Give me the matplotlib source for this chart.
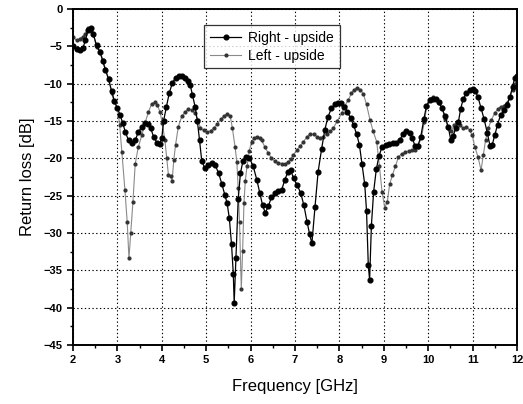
import matplotlib
matplotlib.use('Agg')
import matplotlib.pyplot as plt
from matplotlib.ticker import MultipleLocator

# Right - upside (dark curve, big markers)
freq_right = [2.00, 2.08, 2.15, 2.22, 2.28, 2.34, 2.40, 2.46, 2.53, 2.61, 2.67, 2.73, 2.80, 2.87, 2.93,
              3.00, 3.06, 3.12, 3.18, 3.25, 3.32, 3.40, 3.47, 3.55, 3.62, 3.68, 3.75, 3.82, 3.89, 3.95,
              4.00, 4.04, 4.10, 4.17, 4.24, 4.31, 4.38, 4.45, 4.52, 4.58, 4.64, 4.69, 4.75, 4.80, 4.85,
              4.90, 4.97, 5.05, 5.12, 5.20, 5.28, 5.35, 5.42, 5.47, 5.52, 5.57, 5.61, 5.63, 5.67, 5.72,
              5.77, 5.83, 5.90, 5.97, 6.06, 6.14, 6.21, 6.27, 6.33, 6.40, 6.47, 6.55, 6.62, 6.70, 6.77,
              6.84, 6.90, 6.97, 7.05, 7.13, 7.20, 7.27, 7.33, 7.38, 7.45, 7.52, 7.60, 7.67, 7.74, 7.82,
              7.90, 7.97, 8.04, 8.11, 8.18, 8.25, 8.32, 8.39, 8.45, 8.51, 8.57, 8.61, 8.65, 8.68, 8.72,
              8.77, 8.83, 8.89, 8.96, 9.04, 9.12, 9.20, 9.28, 9.36, 9.44, 9.51, 9.58, 9.64, 9.70, 9.76,
              9.83, 9.90, 9.96, 10.03, 10.10, 10.17, 10.24, 10.31, 10.38, 10.45, 10.51, 10.56, 10.62,
              10.68, 10.73, 10.79, 10.86, 10.93, 11.00, 11.06, 11.12, 11.19, 11.26, 11.33, 11.39, 11.44,
              11.50, 11.56, 11.63, 11.70, 11.77, 11.84, 11.90, 11.95, 12.00]
rl_right = [-5.0, -5.4, -5.5, -5.3, -4.2, -2.8, -2.6, -3.4, -4.9, -5.8, -7.0, -8.2, -9.4, -11.0, -12.3,
            -13.3, -14.2, -15.3, -16.5, -17.6, -18.0, -17.6, -16.5, -15.8, -15.3, -15.4, -16.0, -17.2, -17.9, -18.1,
            -17.3, -15.0, -13.2, -11.2, -9.9, -9.2, -9.0, -9.0, -9.2, -9.6, -10.2, -11.5, -13.1, -15.0, -17.6,
            -20.4, -21.3, -20.9, -20.6, -20.9, -22.0, -23.4, -24.9, -26.0, -28.0, -31.5, -35.5, -39.4, -33.3, -25.5,
            -22.0, -20.3, -19.8, -19.9, -21.1, -22.9, -24.7, -26.3, -27.3, -26.4, -25.2, -24.6, -24.4, -24.2, -22.9,
            -21.8, -21.6, -22.7, -23.6, -24.7, -26.3, -28.5, -30.2, -31.4, -26.5, -21.8, -18.7, -16.2, -14.5, -13.3,
            -12.8, -12.6, -12.6, -13.1, -13.8, -14.6, -15.6, -16.8, -18.2, -20.8, -23.5, -27.0, -34.3, -36.3, -29.0,
            -24.5, -21.5, -19.7, -18.5, -18.2, -18.1, -18.0, -17.9, -17.5, -16.7, -16.4, -16.6, -17.3, -18.3, -18.4,
            -17.2, -14.8, -13.0, -12.2, -12.0, -12.1, -12.5, -13.3, -14.4, -15.8, -17.6, -17.0, -16.0,
            -15.1, -13.4, -12.0, -11.3, -10.8, -10.7, -11.0, -11.8, -13.3, -14.8, -16.6, -18.3, -18.2,
            -16.9, -15.5, -14.2, -13.6, -12.9, -11.8, -10.4, -9.2, -9.0]

# Left - upside (grey curve, small markers)
freq_left = [2.00, 2.08, 2.15, 2.22, 2.28, 2.34, 2.40, 2.46, 2.53, 2.61, 2.67, 2.73, 2.80, 2.87, 2.93,
             3.00, 3.05, 3.10, 3.17, 3.22, 3.26, 3.30, 3.35, 3.40, 3.47, 3.55, 3.62, 3.70, 3.77, 3.84,
             3.90, 3.96, 4.01, 4.07, 4.11, 4.15, 4.20, 4.23, 4.27, 4.31, 4.37, 4.45, 4.52, 4.60, 4.67,
             4.75, 4.82, 4.87, 4.94, 5.02, 5.10, 5.18, 5.25, 5.33, 5.40, 5.47, 5.54, 5.59, 5.65, 5.69,
             5.72, 5.75, 5.79, 5.82, 5.85, 5.88, 5.92, 5.97, 6.02, 6.08, 6.14, 6.20, 6.25, 6.32, 6.40,
             6.47, 6.55, 6.62, 6.70, 6.77, 6.84, 6.90, 6.96, 7.04, 7.11, 7.19, 7.26, 7.34, 7.42, 7.50,
             7.57, 7.64, 7.72, 7.79, 7.86, 7.95, 8.05, 8.12, 8.20, 8.27, 8.33, 8.39, 8.47, 8.54, 8.61,
             8.69, 8.76, 8.84, 8.90, 8.96, 9.02, 9.08, 9.13, 9.19, 9.26, 9.33, 9.40, 9.48, 9.56, 9.63,
             9.70, 9.77, 9.85, 9.91, 9.97, 10.04, 10.10, 10.17, 10.24, 10.31, 10.38, 10.45, 10.52, 10.58,
             10.64, 10.71, 10.79, 10.86, 10.93, 10.99, 11.05, 11.12, 11.19, 11.24, 11.29, 11.35, 11.42,
             11.50, 11.57, 11.63, 11.70, 11.77, 11.84, 11.90, 11.95, 12.00]
rl_left = [-3.8, -4.2, -4.0, -3.7, -3.3, -2.6, -2.9, -3.5, -5.1, -5.7, -6.8, -8.0, -9.3, -11.3, -12.5,
           -13.3, -15.5, -19.1, -24.3, -28.5, -33.4, -30.0, -25.8, -20.8, -18.5, -16.9, -15.3, -13.8, -12.7, -12.5,
           -12.9, -13.8, -15.3, -17.6, -20.0, -22.3, -22.4, -23.1, -20.2, -18.2, -15.8, -14.4, -13.8, -13.4, -13.5,
           -14.0, -14.9, -16.0, -16.2, -16.5, -16.3, -15.9, -15.4, -14.8, -14.3, -14.1, -14.3, -16.0, -18.5, -20.5,
           -24.0, -28.5, -37.5, -32.4, -26.0, -23.0, -21.0, -19.0, -17.8, -17.3, -17.1, -17.3, -17.6, -18.5, -19.3,
           -20.0, -20.4, -20.6, -20.7, -20.8, -20.5, -20.1, -19.6, -18.9, -18.4, -17.8, -17.2, -16.7, -16.8, -17.1,
           -17.3, -17.1, -16.7, -16.4, -16.0, -15.0, -14.0, -13.0, -12.2, -11.3, -10.8, -10.6, -10.8, -11.4, -12.8,
           -14.9, -16.4, -17.8, -21.0, -24.5, -26.6, -25.8, -23.5, -22.3, -21.1, -19.8, -19.4, -19.2, -19.0, -18.9,
           -18.9, -18.5, -17.1, -15.2, -13.0, -12.0, -11.8, -12.1, -12.6, -13.2, -14.7, -16.0, -16.3, -15.6,
           -15.2, -15.6, -16.0, -15.8, -16.2, -16.9, -18.5, -19.8, -21.6, -19.6, -17.6, -16.0, -14.9,
           -13.9, -13.4, -13.1, -13.0, -12.6, -11.8, -10.8, -10.1, -9.5]

x_ticks = list(range(2, 13))
y_ticks = list(range(-45, 1, 5))

plt.rcParams['font.family'] = ['Liberation Sans', 'DejaVu Sans']

fig = plt.figure(figsize=(5.23, 4.04), dpi=100)
ax = fig.add_axes([0.1396, 0.146, 0.849, 0.832])

ax.plot(freq_right, rl_right, '-', color='black', lw=0.9, marker='o', ms=3.4,
        mfc='black', mec='black', label='Right - upside', zorder=3)
ax.plot(freq_left, rl_left, '-', color='#8a8a8a', lw=0.8, marker='o', ms=2.0,
        mfc='#333333', mec='#333333', label='Left - upside', zorder=2)

ax.set_xlim(2, 12)
ax.set_ylim(-45, 0)
ax.set_xticks(x_ticks)
ax.set_yticks(y_ticks)
ax.xaxis.set_minor_locator(MultipleLocator(0.5))
ax.yaxis.set_minor_locator(MultipleLocator(2.5))
ax.tick_params(which='major', direction='out', length=4, width=1.2, labelsize=8)
ax.tick_params(which='minor', direction='out', length=2.5, width=1.0)
for lab in ax.get_xticklabels() + ax.get_yticklabels():
    lab.set_fontweight('bold')

ax.grid(True, which='major', color='black', linestyle=(0, (1.2, 2.2)), linewidth=0.8)
for sp in ax.spines.values():
    sp.set_linewidth(1.4)

ax.set_xlabel('Frequency [GHz]', fontsize=12, labelpad=10)
ax.set_ylabel('Return loss [dB]', fontsize=12, labelpad=6)

leg = ax.legend(loc='upper left', bbox_to_anchor=(0.295, 0.952), borderaxespad=0,
                fontsize=10, frameon=True, fancybox=False, edgecolor='black',
                handlelength=2.3, handletextpad=0.5, borderpad=0.4, labelspacing=0.3)
leg.get_frame().set_linewidth(0.9)

fig.savefig('out.png', dpi=100)
